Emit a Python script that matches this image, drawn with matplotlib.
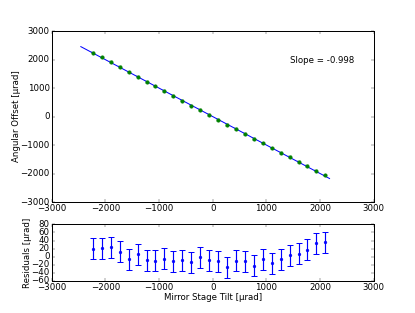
import numpy as np
import matplotlib
matplotlib.use("Agg")
import matplotlib.pyplot as plt

plt.style.use('classic')
plt.rcParams['font.size'] = 12
plt.rcParams['xtick.major.pad'] = 2.5
plt.rcParams['ytick.major.pad'] = 3

# mirror stage tilt (urad)
tilt = [-2230, -2063, -1895, -1733, -1565, -1398, -1230, -1068, -900, -732,
        -565, -397, -229, -62, 106, 266, 434, 602, 764, 932,
        1099, 1267, 1435, 1602, 1764, 1932, 2100]
# measured angular offset (urad)
offset = [2245, 2079, 1915, 1742, 1556, 1401, 1218, 1056, 893, 719,
          555, 382, 227, 52, -118, -291, -443, -613, -785, -937,
          -1113, -1271, -1428, -1592, -1743, -1895, -2061]
# residuals from linear fit (urad)
resid = [19.4, 20.3, 23.6, 12.0, -6.2, 5.4, -9.5, -10.3, -5.4, -11.2,
         -8.7, -14.5, -1.2, -9.5, -12.0, -26.0, -10.3, -12.0, -22.7, -7.0,
         -16.1, -7.0, 3.7, 7.0, 17.0, 32.7, 35.2]
err = [26] * len(tilt)

slope = -0.998
intercept = 0.0
fit_x = np.array([-2460, 2180])
fit_y = slope * fit_x + intercept

fig = plt.figure(figsize=(415 / 52, 313 / 52), dpi=52)
ax1 = fig.add_axes([0.125, 0.3546, 0.775, 0.546])
ax2 = fig.add_axes([0.125, 0.103, 0.775, 0.180])

ax1.errorbar(tilt, offset, yerr=err, fmt='go', markersize=5, markeredgecolor='g',
             capsize=3, elinewidth=1.5)
ax1.plot(fit_x, fit_y, 'b-', lw=1.4)
ax1.text(1450, 1880, 'Slope = %.3f' % slope)
ax1.set_xlim(-3000, 3000)
ax1.set_ylim(-3000, 3000)
ax1.set_ylabel('Angular Offset [µrad]', labelpad=-1)

ax2.errorbar(tilt, resid, yerr=err, fmt='b.', markersize=8, capsize=4,
             elinewidth=1.6, capthick=1.4)
ax2.set_xlim(-3000, 3000)
ax2.set_ylim(-60, 80)
ax2.set_yticks(np.arange(-60, 81, 20))
ax2.set_ylabel('Residuals [µrad]', labelpad=-1)
ax2.set_xlabel('Mirror Stage Tilt [µrad]', labelpad=2)

for ax in (ax1, ax2):
    for s in ax.spines.values():
        s.set_linewidth(1.4)

fig.savefig('out.png', dpi=52)
